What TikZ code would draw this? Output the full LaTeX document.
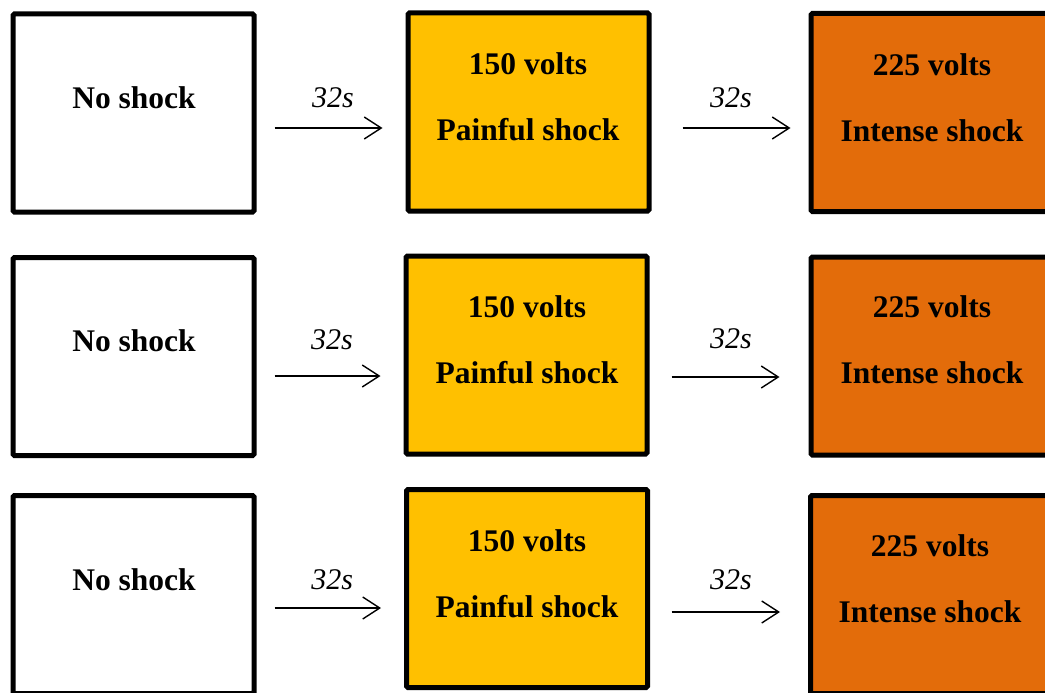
\documentclass[tikz,border=0pt]{standalone}
\usepackage{fontspec}
\setmainfont{Liberation Serif}
\usetikzlibrary{arrows.meta}
\definecolor{yel}{HTML}{FFC000}
\definecolor{org}{HTML}{E36C0A}
\tikzset{
  box/.style={draw=black, line width=5pt, minimum width=241pt, minimum height=198pt, inner sep=0pt, rounded corners=1.5pt},
  txt/.style={font=\bfseries\fontsize{31.5}{36}\selectfont, inner sep=0pt, anchor=center},
  arr/.style={line width=1.4pt, -{Straight Barb[length=17pt,width=22pt,line width=1.4pt]}},
  lab/.style={font=\itshape\fontsize{30}{34}\selectfont, inner sep=0pt}
}
\begin{document}
\begin{tikzpicture}[x=1pt,y=-1pt]
\useasboundingbox (0,0) rectangle (1045,693);
% row 1
\node[box, fill=white] (a1) at (133.5,113) {};
\node[box, fill=yel] (b1) at (528.5,112) {};
\node[box, fill=org] (c1) at (931.5,112.5) {};
\node[txt] (ta1) at (134,98) {No shock};
\node[txt] (tb1) at (528,64) {150 volts};
\node[txt] (tb1b) at (528,130) {Painful shock};
\node[txt] (tc1) at (932,65) {225 volts};
\node[txt] (tc1b) at (932,131) {Intense shock};
% row 2
\node[box, fill=white] (a2) at (133.5,356.5) {};
\node[box, fill=yel] (b2) at (526.5,355) {};
\node[box, fill=org] (c2) at (931.5,356) {};
\node[txt] (ta2) at (134,341) {No shock};
\node[txt] (tb2) at (527,307) {150 volts};
\node[txt] (tb2b) at (527,373) {Painful shock};
\node[txt] (tc2) at (932,307) {225 volts};
\node[txt] (tc2b) at (932,373) {Intense shock};
% row 3
\node[box, fill=white] (a3) at (133.5,594.5) {};
\node[box, fill=yel] (b3) at (527,588.5) {};
\node[box, fill=org] (c3) at (931,594.5) {};
\node[txt] (ta3) at (134,580) {No shock};
\node[txt] (tb3) at (527,541) {150 volts};
\node[txt] (tb3b) at (527,607) {Painful shock};
\node[txt] (tc3) at (930,546) {225 volts};
\node[txt] (tc3b) at (930,612) {Intense shock};
% arrow levels
\coordinate (r1) at (0,128);
\coordinate (r1b) at (0,128);
\coordinate (r2) at (0,376);
\coordinate (r2b) at (0,377);
\coordinate (r3) at (0,608);
\coordinate (r3b) at (0,612);
% arrows
\draw[arr, shorten <=18pt, shorten >=23pt] (a1.east |- r1) -- node[lab, pos=0.5, xshift=2pt, yshift=30pt]{32s} (b1.west |- r1);
\draw[arr, shorten <=31pt, shorten >=18pt] (b1.east |- r1b) -- node[lab, pos=0.5, xshift=1pt, yshift=30pt]{32s} (c1.west |- r1b);
\draw[arr, shorten <=18pt, shorten >=23pt] (a2.east |- r2) -- node[lab, pos=0.5, xshift=2pt, yshift=36pt]{32s} (b2.west |- r2);
\draw[arr, shorten <=22pt, shorten >=29pt] (b2.east |- r2b) -- node[lab, pos=0.5, xshift=2pt, yshift=38pt]{32s} (c2.west |- r2b);
\draw[arr, shorten <=18pt, shorten >=23pt] (a3.east |- r3) -- node[lab, pos=0.5, xshift=2pt, yshift=28pt]{32s} (b3.west |- r3);
\draw[arr, shorten <=21.5pt, shorten >=28pt] (b3.east |- r3b) -- node[lab, pos=0.5, xshift=2pt, yshift=32pt]{32s} (c3.west |- r3b);
\end{tikzpicture}
\end{document}
